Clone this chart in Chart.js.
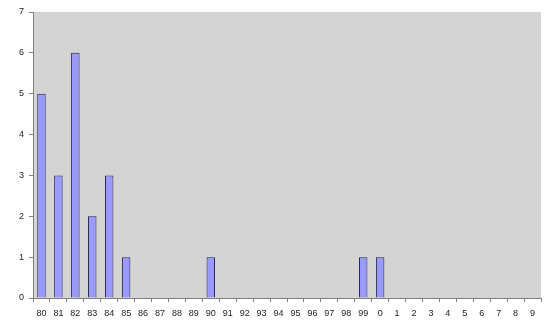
<!DOCTYPE html>
<html><head><meta charset="utf-8">
<script src="https://cdn.jsdelivr.net/npm/chart.js@4"></script>
<style>html,body{margin:0;padding:0;background:#fff}#w{width:554px;height:335px}</style>
</head><body><div id="w"><canvas id="c" width="554" height="335"></canvas></div>
<script>
const categories = ["80","81","82","83","84","85","86","87","88","89","90","91","92","93","94","95","96","97","98","99","0","1","2","3","4","5","6","7","8","9"];
const values = [5,3,6,2,3,1,0,0,0,0,1,0,0,0,0,0,0,0,0,1,1,0,0,0,0,0,0,0,0,0];
const yTicks = [0,1,2,3,4,5,6,7];

const bgPlugin = {
  id:'bg',
  beforeDraw(chart){
    const {ctx, chartArea:a} = chart;
    ctx.save();
    ctx.fillStyle = '#d4d4d4';
    ctx.fillRect(a.left, a.top, a.right-a.left, a.bottom-a.top);
    ctx.restore();
  }
};

new Chart(document.getElementById('c'), {
  type:'bar',
  data:{labels:categories, datasets:[{data:values.map(v=>v===0?null:v), backgroundColor:'#9999ff', borderColor:'#202050', borderWidth:1, barPercentage:0.5, categoryPercentage:1}]},
  plugins:[bgPlugin],
  options:{
    responsive:false, animation:false,
    layout:{padding:{top:12,right:13,left:0,bottom:0}},
    plugins:{legend:{display:false}, tooltip:{enabled:false}},
    scales:{
      x:{
        grid:{display:true, drawOnChartArea:false, color:'#808080', tickLength:4, offset:true},
        border:{display:true, color:'#808080'},
        ticks:{color:'#222', font:{family:'Liberation Sans, Arial', size:9}, padding:6, maxRotation:0, autoSkip:false},
        afterFit(s){ s.height = 37; }
      },
      y:{
        min:0, max:7,
        afterBuildTicks(s){ s.ticks = yTicks.map(v=>({value:v})); },
        grid:{display:true, drawOnChartArea:false, color:'#808080', tickLength:4},
        border:{display:true, color:'#808080'},
        ticks:{color:'#222', font:{family:'Liberation Sans, Arial', size:9}, padding:5},
        afterFit(s){ s.width = 33; }
      }
    }
  }
});
</script></body></html>
